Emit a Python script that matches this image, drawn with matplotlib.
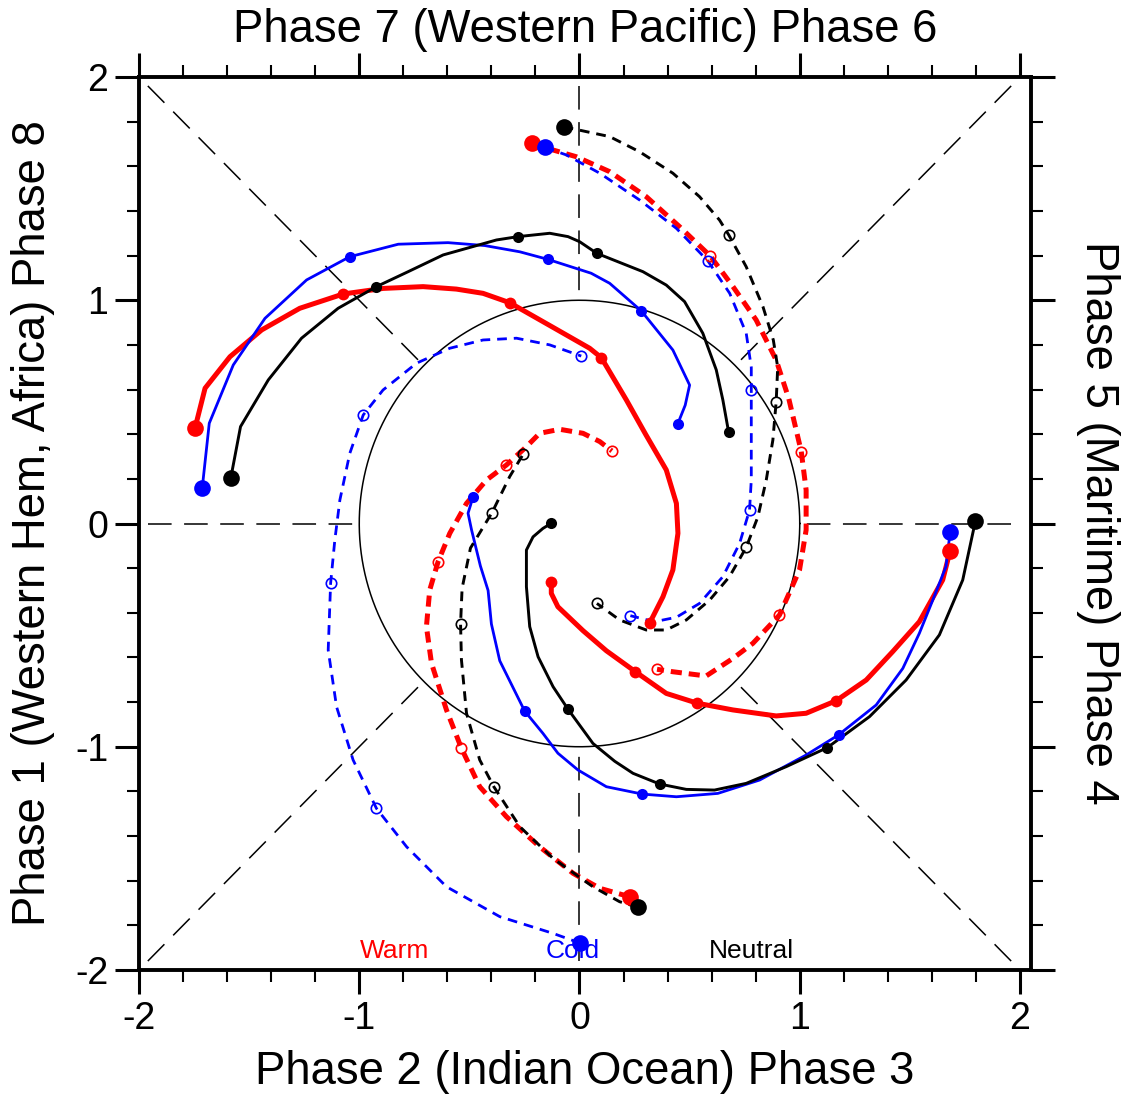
import matplotlib
matplotlib.use('Agg')
import matplotlib.pyplot as plt
from matplotlib.ticker import MultipleLocator
import numpy as np

plt.rcParams['font.family'] = ['Liberation Sans', 'DejaVu Sans']
plt.rcParams['axes.unicode_minus'] = False
plt.rcParams['lines.scale_dashes'] = False

# ---------------- data (RMM1, RMM2) ----------------
# Group A: solid, starting in phase 8/1 (left)
warm_A_x = [-1.746, -1.700, -1.587, -1.443, -1.270, -1.073, -0.892, -0.710, -0.559, -0.438, -0.317,
            -0.121, 0.046, 0.099, 0.213, 0.300, 0.394, 0.440, 0.447, 0.424, 0.379, 0.318]
warm_A_y = [0.426, 0.606, 0.747, 0.867, 0.964, 1.028, 1.053, 1.061, 1.050, 1.031, 0.989,
            0.879, 0.785, 0.743, 0.553, 0.400, 0.240, 0.090, -0.044, -0.208, -0.328, -0.447]
warm_A_dots = [5, 10, 13, 21]

cold_A_x = [-1.713, -1.681, -1.572, -1.428, -1.239, -1.043, -0.823, -0.597, -0.430, -0.271, -0.143,
            0.053, 0.137, 0.281, 0.424, 0.500, 0.480, 0.446]
cold_A_y = [0.158, 0.449, 0.710, 0.919, 1.091, 1.195, 1.251, 1.258, 1.245, 1.217, 1.183,
            1.121, 1.076, 0.952, 0.777, 0.620, 0.530, 0.446]
cold_A_dots = [5, 10, 13, 17]

neut_A_x = [-1.583, -1.539, -1.413, -1.262, -1.096, -0.922, -0.778, -0.619, -0.377, -0.279, -0.135,
            -0.052, 0.001, 0.079, 0.288, 0.394, 0.477, 0.560, 0.621, 0.651, 0.677]
neut_A_y = [0.205, 0.434, 0.643, 0.830, 0.964, 1.061, 1.128, 1.203, 1.270, 1.285, 1.300,
            1.285, 1.262, 1.210, 1.128, 1.068, 0.994, 0.852, 0.688, 0.553, 0.410]
neut_A_dots = [5, 9, 13, 20]

# Group B: solid, starting in phase 4/5 (right)
warm_B_x = [1.683, 1.649, 1.543, 1.422, 1.302, 1.165, 1.029, 0.893, 0.696, 0.535, 0.394,
            0.254, 0.122, 0.016, -0.098, -0.128, -0.128]
warm_B_y = [-0.122, -0.253, -0.440, -0.574, -0.701, -0.794, -0.850, -0.862, -0.835, -0.805, -0.761,
            -0.664, -0.570, -0.480, -0.373, -0.313, -0.261]
warm_B_dots = [5, 9, 11, 16]

cold_B_x = [1.683, 1.664, 1.604, 1.543, 1.468, 1.347, 1.176, 1.029, 0.818, 0.628, 0.440, 0.285,
            0.122, -0.007, -0.098, -0.166, -0.249, -0.362, -0.400, -0.415, -0.450, -0.490, -0.506, -0.483]
cold_B_y = [-0.037, -0.193, -0.343, -0.492, -0.649, -0.813, -0.947, -1.037, -1.149, -1.209, -1.224, -1.212,
            -1.179, -1.104, -1.029, -0.940, -0.840, -0.615, -0.450, -0.300, -0.190, -0.029, 0.046, 0.120]
cold_B_dots = [6, 11, 16, 23]

neut_B_x = [1.798, 1.740, 1.634, 1.483, 1.317, 1.125, 0.939, 0.757, 0.613, 0.485, 0.364, 0.243,
            0.160, 0.061, -0.052, -0.120, -0.188, -0.226, -0.241, -0.241, -0.211, -0.166, -0.128]
neut_B_y = [0.013, -0.253, -0.499, -0.701, -0.865, -1.004, -1.089, -1.164, -1.194, -1.191, -1.167, -1.119,
            -1.065, -0.985, -0.832, -0.731, -0.597, -0.462, -0.283, -0.119, -0.060, -0.022, 0.001]
neut_B_dots = [5, 10, 14, 22]

# Group C: dashed, starting in phase 6/7 (top)
warm_C_x = [-0.216, -0.120, -0.015, 0.137, 0.303, 0.455, 0.594, 0.697, 0.802, 0.893, 0.950,
            1.007, 1.029, 1.029, 0.999, 0.908, 0.787, 0.697, 0.575, 0.424, 0.352]
warm_C_y = [1.706, 1.673, 1.643, 1.576, 1.464, 1.329, 1.198, 1.061, 0.912, 0.732, 0.560,
            0.322, 0.150, -0.029, -0.208, -0.410, -0.537, -0.604, -0.683, -0.664, -0.653]
warm_C_dots = [6, 11, 15, 20]

cold_C_x = [-0.158, -0.060, 0.092, 0.273, 0.440, 0.583, 0.682, 0.757, 0.780, 0.780, 0.780,
            0.780, 0.772, 0.727, 0.651, 0.545, 0.440, 0.340, 0.231]
cold_C_y = [1.685, 1.651, 1.569, 1.449, 1.322, 1.176, 1.031, 0.852, 0.700, 0.598, 0.344,
            0.195, 0.060, -0.089, -0.238, -0.358, -0.420, -0.440, -0.413]
cold_C_dots = [5, 9, 12, 18]

neut_C_x = [-0.072, 0.137, 0.273, 0.424, 0.545, 0.636, 0.678, 0.757, 0.833, 0.880, 0.900,
            0.893, 0.878, 0.848, 0.810, 0.757, 0.681, 0.591, 0.485, 0.394, 0.303, 0.182, 0.079]
neut_C_y = [1.777, 1.733, 1.665, 1.569, 1.464, 1.359, 1.292, 1.150, 0.971, 0.822, 0.700,
            0.546, 0.374, 0.195, 0.030, -0.107, -0.238, -0.343, -0.432, -0.477, -0.477, -0.432, -0.358]
neut_C_dots = [6, 11, 15, 22]

# Group D: dashed, starting in phase 2/3 (bottom)
warm_D_x = [0.228, 0.092, -0.029, -0.181, -0.332, -0.453, -0.536, -0.604, -0.672, -0.695, -0.680,
            -0.642, -0.589, -0.513, -0.422, -0.332, -0.241, -0.181, -0.090, 0.016, 0.092, 0.147]
warm_D_y = [-1.672, -1.634, -1.567, -1.448, -1.313, -1.179, -1.007, -0.835, -0.626, -0.462, -0.298,
            -0.171, -0.044, 0.090, 0.195, 0.262, 0.344, 0.404, 0.422, 0.404, 0.367, 0.325]
warm_D_dots = [6, 11, 15, 21]

cold_D_x = [0.004, -0.120, -0.362, -0.604, -0.785, -0.922, -1.028, -1.103, -1.141, -1.130, -1.111,
            -1.088, -1.043, -0.982, -0.892, -0.740, -0.589, -0.438, -0.286, -0.135, 0.008]
cold_D_y = [-1.880, -1.836, -1.761, -1.627, -1.448, -1.276, -1.059, -0.821, -0.567, -0.268, -0.075,
            0.105, 0.314, 0.486, 0.598, 0.718, 0.785, 0.822, 0.830, 0.800, 0.750]
cold_D_dots = [5, 9, 13, 20]

neut_D_x = [0.265, 0.182, 0.061, -0.120, -0.271, -0.389, -0.453, -0.513, -0.536, -0.540, -0.533,
            -0.495, -0.397, -0.317, -0.256]
neut_D_y = [-1.719, -1.694, -1.627, -1.500, -1.358, -1.179, -1.059, -0.850, -0.611, -0.450, -0.290,
            -0.110, 0.049, 0.210, 0.310]
neut_D_dots = [5, 9, 12, 14]

tick_vals = [-2, -1, 0, 1, 2]
tick_labels = ['-2', '-1', '0', '1', '2']
legend_names = ['Warm', 'Cold', 'Neutral']

# ---------------- figure ----------------
W, H = 1128, 1095
fig = plt.figure(figsize=(W / 100, H / 100), dpi=100)
ax = fig.add_axes([139 / W, 1 - 970 / H, (1031 - 139) / W, (970 - 77) / H])
ax.set_xlim(-2, 2.05)
ax.set_ylim(-2, 2)

# reference circle and phase dividers
t = np.linspace(0, 2 * np.pi, 400)
ax.plot(np.cos(t), np.sin(t), color='k', lw=1.1, zorder=1)
for ang in np.deg2rad(np.arange(0, 360, 45)):
    c, s = np.cos(ang), np.sin(ang)
    rout = 1.96 / max(abs(c), abs(s))
    ax.plot([rout * c, c], [rout * s, s], color='k', lw=1.1,
            ls=(0, (17, 9)), zorder=1)

colors = {'warm': '#ff0000', 'cold': '#0000ff', 'neut': '#000000'}
lws = {'warm': 3.6, 'cold': 2.0, 'neut': 2.1}
small_ms = {'warm': 8.5, 'cold': 8.0, 'neut': 8.0}


def draw(x, y, dots, key, dashed):
    col = colors[key]
    lw = lws[key]
    if dashed:
        ls = (0, (8, 5)) if key == 'warm' else (0, (7, 5))
        ax.plot(x, y, color=col, lw=lw, ls=ls, solid_capstyle='butt',
                dash_capstyle='butt', zorder=3)
        ax.plot(np.array(x)[dots], np.array(y)[dots], ls='none', marker='o',
                ms=7.5, mfc='none', mec=col, mew=1.2, zorder=4)
    else:
        ax.plot(x, y, color=col, lw=lw, ls='-', zorder=3)
        ax.plot(np.array(x)[dots], np.array(y)[dots], ls='none', marker='o',
                ms=small_ms[key], mfc=col, mec=col, mew=0, zorder=4)
    ax.plot(x[0], y[0], ls='none', marker='o', ms=12, mfc=col, mec=col,
            mew=0, zorder=5)


for grp_dashed, sets in [
    (False, [('warm', warm_A_x, warm_A_y, warm_A_dots),
             ('warm', warm_B_x, warm_B_y, warm_B_dots)]),
    (True, [('warm', warm_C_x, warm_C_y, warm_C_dots),
            ('warm', warm_D_x, warm_D_y, warm_D_dots)]),
    (False, [('cold', cold_A_x, cold_A_y, cold_A_dots),
             ('cold', cold_B_x, cold_B_y, cold_B_dots)]),
    (True, [('cold', cold_C_x, cold_C_y, cold_C_dots),
            ('cold', cold_D_x, cold_D_y, cold_D_dots)]),
    (False, [('neut', neut_A_x, neut_A_y, neut_A_dots),
             ('neut', neut_B_x, neut_B_y, neut_B_dots)]),
    (True, [('neut', neut_C_x, neut_C_y, neut_C_dots),
            ('neut', neut_D_x, neut_D_y, neut_D_dots)]),
]:
    for key, x, y, d in sets:
        draw(x, y, d, key, grp_dashed)

# legend words
for name, xpos, key in zip(legend_names, [-0.838, -0.031, 0.781], ['warm', 'cold', 'neut']):
    ax.text(xpos, -1.946, name, color=colors[key], fontsize=19, ha='center',
            va='baseline', zorder=2)

# axes styling
ax.set_xticks(tick_vals)
ax.set_xticklabels(tick_labels)
ax.set_yticks(tick_vals)
ax.set_yticklabels(tick_labels)
ax.xaxis.set_minor_locator(MultipleLocator(0.2))
ax.yaxis.set_minor_locator(MultipleLocator(0.2))
ax.tick_params(which='both', direction='out', top=True, right=True,
               labeltop=False, labelright=False)
ax.tick_params(which='major', length=17, width=2.2, labelsize=27, pad=5)
ax.tick_params(which='minor', length=8.5, width=1.5)
for sp in ax.spines.values():
    sp.set_linewidth(2.8)

# axis titles
fs = 32.8
fig.text(585 / W, 1 - 42 / H, 'Phase 7 (Western Pacific) Phase 6', fontsize=fs,
         ha='center', va='baseline')
fig.text(585 / W, 1 - 1084 / H, 'Phase 2 (Indian Ocean) Phase 3', fontsize=fs,
         ha='center', va='baseline')
fig.text(45 / W, 1 - 523 / H, 'Phase 1 (Western Hem, Africa) Phase 8', fontsize=fs,
         ha='center', va='baseline', rotation=90, rotation_mode='anchor')
fig.text(1086 / W, 1 - 523 / H, 'Phase 5 (Maritime) Phase 4', fontsize=fs,
         ha='center', va='baseline', rotation=-90, rotation_mode='anchor')

fig.savefig('out.png', dpi=100)
